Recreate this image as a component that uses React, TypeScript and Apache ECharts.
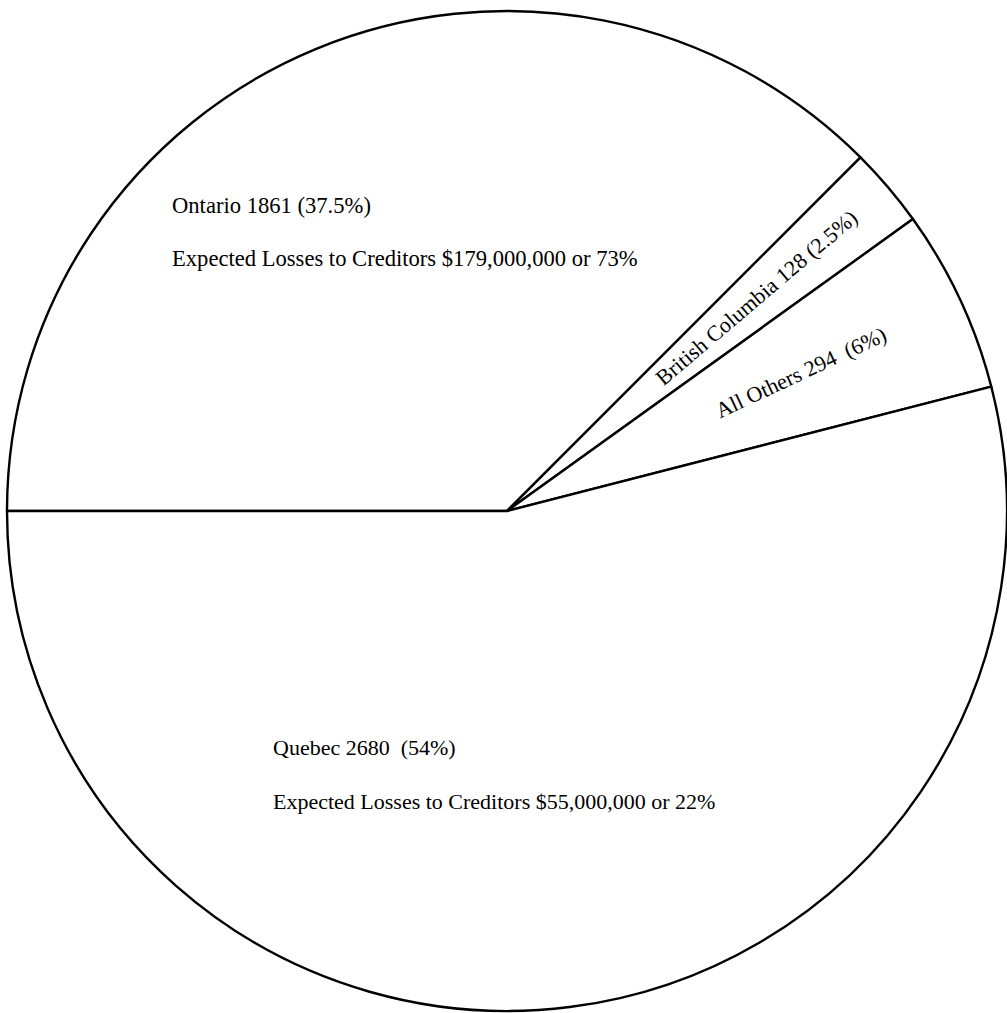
import React, { useEffect, useRef } from "react";
import * as echarts from "echarts";

const provinces = ["Ontario", "British Columbia", "All Others", "Quebec"];
const counts = [1861, 128, 294, 2680];
const pctLabels = ["(37.5%)", "(2.5%)", "(6%)", "(54%)"];
const ontarioLoss = "Expected Losses to Creditors $179,000,000 or 73%";
const quebecLoss = "Expected Losses to Creditors $55,000,000 or 22%";

const FONT = "'Liberation Serif', 'Times New Roman', serif";
const FS = 22;
const CX = 507;
const CY = 511;
const R = 500;
const START = 180;

export default function App() {
  const ref = useRef<HTMLDivElement>(null);
  useEffect(() => {
    if (!ref.current) return;
    const chart = echarts.init(ref.current, undefined, { renderer: "svg" });

    // mid angle (degrees, math convention) of each slice, drawn clockwise from START
    const total = counts.reduce((a, b) => a + b, 0);
    let acc = 0;
    const mids = counts.map((c) => {
      const a0 = START - (acc / total) * 360;
      acc += c;
      const a1 = START - (acc / total) * 360;
      return (a0 + a1) / 2;
    });

    const txt = (text: string, x: number, y: number, fs = FS) => ({
      type: "text",
      x,
      y,
      z: 100,
      style: {
        text,
        fill: "#000",
        font: `${fs}px ${FONT}`,
        align: "left",
        verticalAlign: "middle",
      },
    });
    const radialTxt = (text: string, idx: number, r: number) => {
      const a = (mids[idx] * Math.PI) / 180;
      return {
        type: "group",
        x: CX + r * Math.cos(a),
        y: CY - r * Math.sin(a),
        z: 100,
        rotation: a,
        children: [txt(text, 0, -1)],
      };
    };

    chart.setOption({
      animation: false,
      backgroundColor: "#fff",
      series: [
        {
          type: "pie",
          z: 1,
          center: [CX, CY],
          radius: R,
          startAngle: START,
          clockwise: true,
          avoidLabelOverlap: false,
          silent: true,
          label: { show: false },
          labelLine: { show: false },
          emphasis: { disabled: true },
          itemStyle: { color: "#fff", borderColor: "#000", borderWidth: 2.4 },
          data: provinces.map((p, i) => ({ name: p, value: counts[i] })),
        },
      ],
      graphic: {
        elements: [
          txt(`${provinces[0]} ${counts[0]} ${pctLabels[0]}`, 172, 205, 22.6),
          txt(ontarioLoss, 172, 258, 22.6),
          radialTxt(`${provinces[1]} ${counts[1]} ${pctLabels[1]}`, 1, 200),
          radialTxt(`${provinces[2]} ${counts[2]}  ${pctLabels[2]}`, 2, 232),
          txt(`${provinces[3]} ${counts[3]}  ${pctLabels[3]}`, 273, 747),
          txt(quebecLoss, 273, 801),
        ],
      },
    });
    return () => chart.dispose();
  }, []);
  return (
    <div
      ref={ref}
      style={{ position: "absolute", left: 0, top: 0, width: 1007, height: 1013 }}
    />
  );
}
